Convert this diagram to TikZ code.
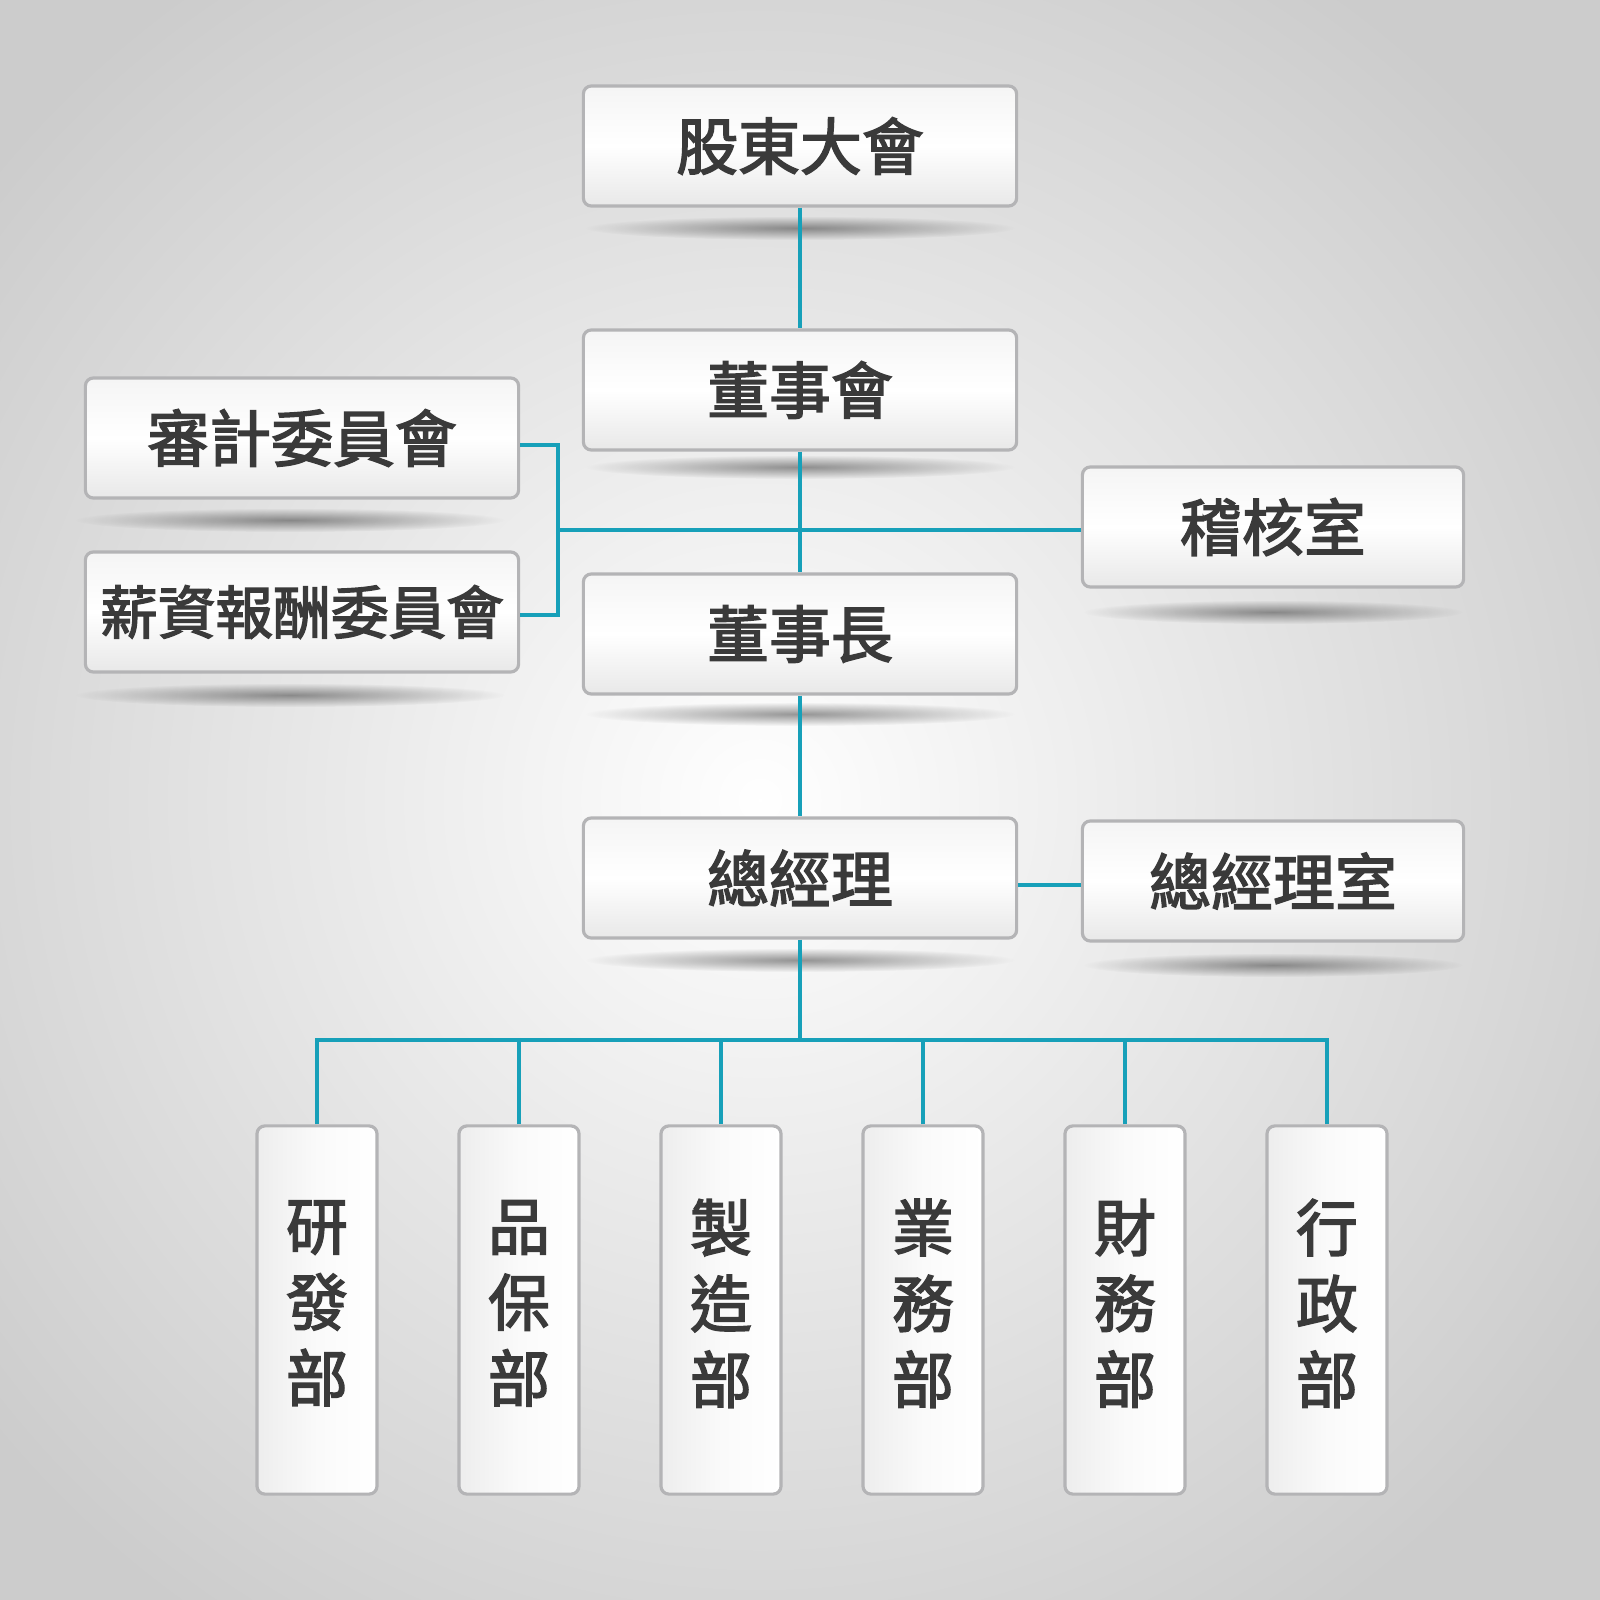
\documentclass[tikz,border=0pt]{standalone}
\usepackage{fontspec}
\newfontfamily\cjk{Noto Sans CJK TC}[FakeBold=2.5]
\usetikzlibrary{fadings}
\definecolor{orgline}{HTML}{17A0B9}
\definecolor{orgedge}{HTML}{B4B4B6}
\definecolor{orgtext}{HTML}{3A3A3A}
\tikzfading[name=softshadow, inner color=transparent!0, outer color=transparent!100]
\tikzset{
  orgbox/.style={draw=orgedge, line width=0.9pt, rectangle, rounded corners=0.08cm, top color=black!4, bottom color=black!9, middle color=white, text=orgtext, font=\cjk\fontsize{17.6}{21.6}\selectfont, minimum width=4.33cm, minimum height=1.2cm},
  deptbox/.style={orgbox, minimum width=1.2cm, minimum height=3.68cm, align=center, left color=black!7, right color=white, middle color=black!2},
  orgwire/.style={draw=orgline, line width=1.3pt},
  boxshadow/.style={fill=black, opacity=.4, path fading=softshadow}
}

\begin{document}
\begin{tikzpicture}[x=0.01cm, y=-0.01cm]
    \useasboundingbox (0,0) rectangle (1600,1600);
    \begin{scope}
      \clip (0,0) rectangle (1600,1600);
      \fill[black!20] (0,0) rectangle (1600,1600);
      \fill[white, path fading=softshadow] (760,800) circle (1000);
    \end{scope}
    % shadows
    \foreach \sx/\sy/\sr in {800/228/215, 800/467/215, 800/714/215, 800/960/215, 290/520/215, 290/695/215, 1273/612/190, 1273/965/190}
      \fill[boxshadow] (\sx,\sy) ellipse ({\sr} and 12);

    \node[orgbox] (agm) at (800,146) {股東大會};
    \node[orgbox] (board) at (800,390) {董事會};
    \node[orgbox] (chair) at (800,634) {董事長};
    \node[orgbox] (gm) at (800,878) {總經理};
    \node[orgbox] (audit) at (302,438) {審計委員會};
    \node[orgbox, font=\cjk\fontsize{16.4}{20}\selectfont] (pay) at (302,612) {薪資報酬委員會};
    \node[orgbox, minimum width=3.81cm] (inspect) at (1273,527) {稽核室};
    \node[orgbox, minimum width=3.81cm] (gmoffice) at (1273,881) {總經理室};

    \node[deptbox] (rd) at (317,1310) {研\\發\\部\rule[-.18cm]{0pt}{.18cm}};
    \node[deptbox] (qa) at (519,1310) {品\\保\\部\rule[-.18cm]{0pt}{.18cm}};
    \node[deptbox] (mfg) at (721,1310) {製\\造\\部\rule[-.18cm]{0pt}{.18cm}};
    \node[deptbox] (sales) at (923,1310) {業\\務\\部\rule[-.18cm]{0pt}{.18cm}};
    \node[deptbox] (fin) at (1125,1310) {財\\務\\部\rule[-.18cm]{0pt}{.18cm}};
    \node[deptbox] (admin) at (1327,1310) {行\\政\\部\rule[-.18cm]{0pt}{.18cm}};

    \coordinate (cj) at (558,530);
    \coordinate (bus) at (800,1040);
    \draw[orgwire] (agm.south) -- (board.north);
    \draw[orgwire] (board.south) -- (chair.north);
    \draw[orgwire] (chair.south) -- (gm.north);
    \draw[orgwire] ([yshift=-.07cm]audit.east) -| (cj) |- ([yshift=-.03cm]pay.east); % committees
    \draw[orgwire] (cj) -- (cj -| inspect.west);
    \draw[orgwire] ([yshift=-.07cm]gm.east) -- ([yshift=-.07cm]gm.east -| gmoffice.west);
    \draw[orgwire] (gm.south) -- (bus);
    \foreach \d in {rd,qa,mfg,sales,fin,admin}
      \draw[orgwire] (\d.north) |- (bus);
\end{tikzpicture}
\end{document}
